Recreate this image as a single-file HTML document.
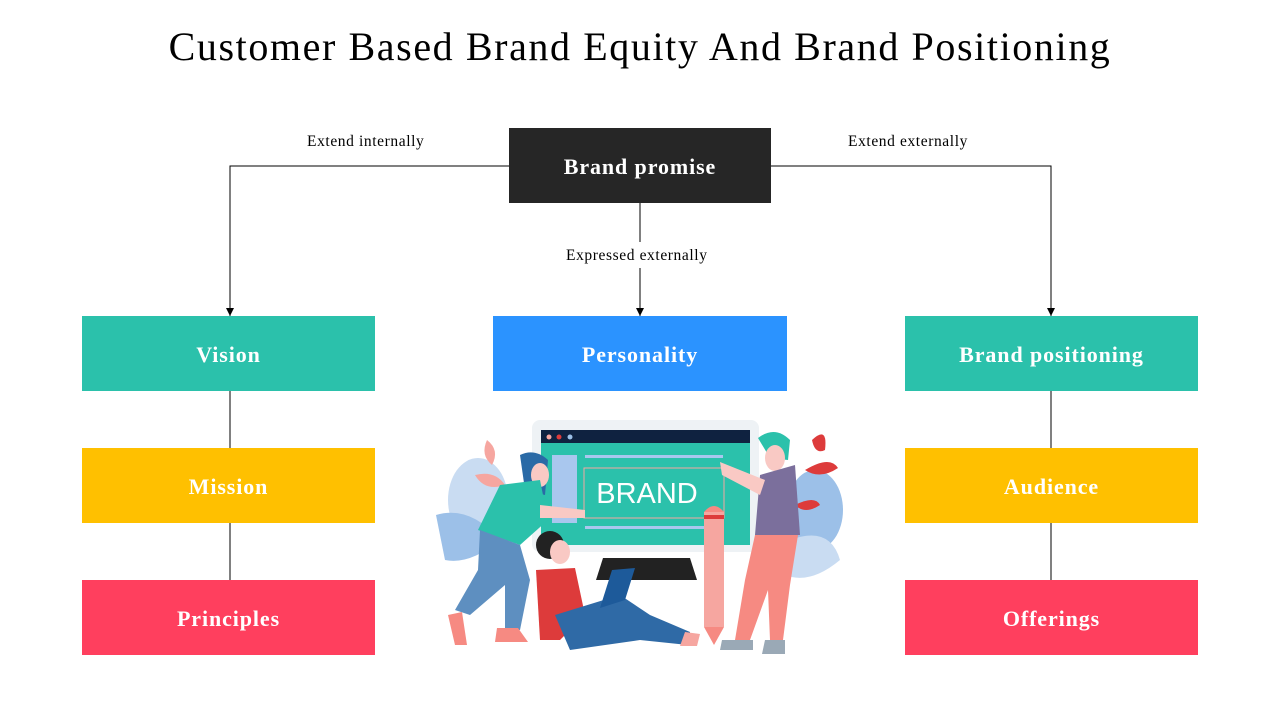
<!DOCTYPE html>
<html><head><meta charset="utf-8"><style>
body{margin:0;width:1280px;height:720px;background:#fff;position:relative;overflow:hidden;font-family:"Liberation Serif",serif}
.t{position:absolute;left:0;width:1280px;top:23px;text-align:center;font-size:40px;letter-spacing:1.6px;color:#000;white-space:nowrap}
.b{position:absolute;display:flex;align-items:center;justify-content:center;color:#fff;font-weight:bold;font-size:22px;letter-spacing:0.9px;padding-top:2px;box-sizing:border-box}
.l{position:absolute;font-size:15.5px;letter-spacing:0.6px;color:#000;white-space:nowrap}
</style></head><body>
<div class="t">Customer Based Brand Equity And Brand Positioning</div>
<svg width="1280" height="720" style="position:absolute;left:0;top:0">
<defs><marker id="a" markerWidth="8" markerHeight="8" refX="8" refY="4" orient="auto" markerUnits="userSpaceOnUse"><path d="M0,0 L8,4 L0,8z" fill="#000"/></marker></defs>
<g stroke="#000" stroke-width="1" fill="none">
<polyline points="509,166 230,166 230,316" marker-end="url(#a)"/>
<polyline points="771,166 1051,166 1051,316" marker-end="url(#a)"/>
<line x1="640" y1="203" x2="640" y2="242"/>
<line x1="640" y1="268" x2="640" y2="316" marker-end="url(#a)"/>
<line x1="230" y1="391" x2="230" y2="448"/><line x1="230" y1="523" x2="230" y2="580"/>
<line x1="1051" y1="391" x2="1051" y2="448"/><line x1="1051" y1="523" x2="1051" y2="580"/>
</g>
<!-- illustration -->
<ellipse cx="478" cy="500" rx="30" ry="42" fill="#C9DCF2"/>
<path d="M436,515 Q470,505 500,540 Q470,565 445,560Z" fill="#9CC0E8"/>
<path d="M487,440 Q500,450 492,465 Q480,455 487,440Z" fill="#F6A6A0"/>
<path d="M475,475 Q495,470 505,485 Q485,492 475,475Z" fill="#F6A6A0"/>
<ellipse cx="815" cy="510" rx="28" ry="40" fill="#9CC0E8"/>
<path d="M790,540 Q830,525 840,560 Q810,585 785,575Z" fill="#C9DCF2"/>
<path d="M812,440 Q828,425 825,450 Q815,455 812,440Z" fill="#DD3B3B"/>
<path d="M805,470 Q830,455 838,468 Q820,480 805,470Z" fill="#DD3B3B"/>
<path d="M795,505 Q815,495 820,505 Q805,515 795,505Z" fill="#DD3B3B"/>
<rect x="532" y="420" width="227" height="132" rx="8" fill="#EEF2F5"/>
<rect x="541" y="430" width="209" height="13" fill="#0F2240"/>
<rect x="541" y="443" width="209" height="102" fill="#2BC1AB"/>
<circle cx="549" cy="437" r="2.5" fill="#F6A6A0"/><circle cx="559" cy="437" r="2.5" fill="#DD3B3B"/><circle cx="570" cy="437" r="2.5" fill="#9CC0E8"/>
<rect x="552" y="455" width="25" height="68" fill="#A9C7EE"/>
<rect x="585" y="455" width="138" height="3" fill="#A9C7EE"/><rect x="585" y="526" width="138" height="3" fill="#A9C7EE"/>
<rect x="584" y="468" width="140" height="50" fill="none" stroke="#F6A6A0" stroke-width="1"/>
<text x="647" y="503" font-family="Liberation Sans,sans-serif" font-size="29" fill="#fff" text-anchor="middle">BRAND</text>
<path d="M603,558 L690,558 L697,580 L596,580Z" fill="#222"/>
<!-- woman -->
<path d="M520,455 Q535,448 548,460 L545,495 L525,490Z" fill="#2A6AA6"/>
<ellipse cx="540" cy="475" rx="9" ry="12" fill="#F9C9C4"/>
<path d="M500,485 L540,480 L548,520 L520,545 L478,530Z" fill="#2BC1AB"/>
<path d="M540,505 L585,510 L585,518 L540,518Z" fill="#F9C9C4"/>
<path d="M480,530 L520,545 L530,580 L520,630 L505,630 L505,585 L470,615 L455,610 L478,570Z" fill="#5E8FC0"/>
<path d="M448,615 L462,612 L467,645 L455,645Z" fill="#F68A82"/><path d="M497,628 L518,628 L528,642 L495,642Z" fill="#F68A82"/>
<!-- sitting man -->
<circle cx="550" cy="545" r="14" fill="#222"/>
<ellipse cx="560" cy="552" rx="10" ry="12" fill="#F9C9C4"/>
<path d="M536,570 L575,568 L585,615 L560,640 L540,640Z" fill="#DD3B3B"/>
<path d="M555,615 L620,595 L650,615 L690,632 L688,645 L640,640 L570,650 Z" fill="#2F6AA6"/>
<path d="M612,570 L635,568 L625,600 L600,608Z" fill="#1D5A9A"/>
<path d="M685,632 L700,634 L697,646 L680,646Z" fill="#F6A6A0"/>
<!-- standing man -->
<path d="M758,438 Q775,425 790,440 L788,460 L770,458Z" fill="#2BC1AB"/>
<ellipse cx="775" cy="458" rx="10" ry="13" fill="#F9C9C4"/>
<path d="M760,475 L795,465 L800,535 L755,535Z" fill="#7B6F9C"/>
<path d="M720,462 L765,480 L760,495 L722,475Z" fill="#F9C9C4"/>
<path d="M755,535 L798,535 L790,585 L783,640 L770,640 L768,590 L750,640 L735,640 L745,580Z" fill="#F68A82"/>
<path d="M722,640 L753,640 L753,650 L720,650Z" fill="#9AA9B6"/><path d="M765,640 L785,640 L785,654 L762,654Z" fill="#9AA9B6"/>
<rect x="704" y="512" width="20" height="115" fill="#F6A6A0"/><path d="M704,512 Q714,500 724,512Z" fill="#F68A82"/>
<path d="M704,627 L724,627 L714,645Z" fill="#F68A82"/><rect x="704" y="515" width="20" height="4" fill="#DD3B3B"/>
</svg>
<div class="b" style="left:509px;top:128px;width:262px;height:75px;background:#262626">Brand promise</div>
<div class="l" style="left:307px;top:133px">Extend internally</div>
<div class="l" style="left:848px;top:133px">Extend externally</div>
<div class="l" style="left:566px;top:247px">Expressed externally</div>
<div class="b" style="left:82px;top:316px;width:293px;height:75px;background:#2BC1AB">Vision</div>
<div class="b" style="left:82px;top:448px;width:293px;height:75px;background:#FFC000">Mission</div>
<div class="b" style="left:82px;top:580px;width:293px;height:75px;background:#FF3F5E">Principles</div>
<div class="b" style="left:493px;top:316px;width:294px;height:75px;background:#2B93FF">Personality</div>
<div class="b" style="left:905px;top:316px;width:293px;height:75px;background:#2BC1AB">Brand positioning</div>
<div class="b" style="left:905px;top:448px;width:293px;height:75px;background:#FFC000">Audience</div>
<div class="b" style="left:905px;top:580px;width:293px;height:75px;background:#FF3F5E">Offerings</div>
</body></html>
